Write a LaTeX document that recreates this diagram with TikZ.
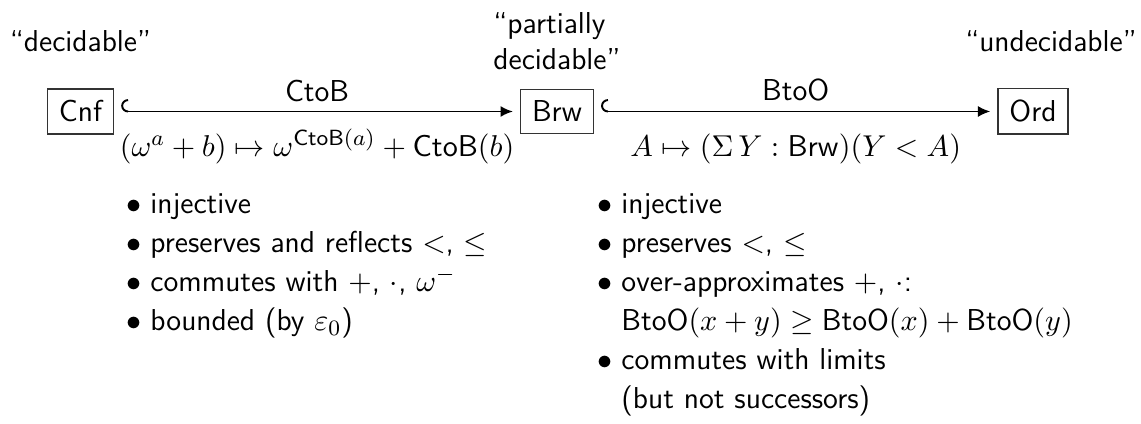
\documentclass[tikz,border=0pt]{standalone}
\usetikzlibrary{positioning, arrows.meta}

\begin{document}
\begin{tikzpicture}[x=0.3636pt, y=0.3636pt, font=\fontsize{11}{13.2}\selectfont\sffamily,
  set/.style={draw=black!80, line width=0.5pt, inner sep=4.2pt},
  level/.style={align=left},
  embed/.style={{Hooks[right, width=9pt, length=2.5pt]}-{Latex[length=4.5pt, width=4pt]}, line width=0.7pt, shorten <=2.5pt, shorten >=2.5pt},
  map/.style={anchor=base, yshift=-16.5pt},
  props/.style={anchor=base west, inner sep=0pt}]
  \useasboundingbox (0,0) rectangle (1141,424);
  % The three sets, left to right, and how decidable each one is.
  \node[set] (cnf) at (80.5,312.5) {Cnf};
  \node[set] (brw) at (557,312.5) {Brw};
  \node[set] (ord) at (1033,312.5) {Ord};
  \coordinate (top) at (0,382.5);
  \node[level] (dec) at (cnf |- top) {``decidable''};
  \node[level] (pdec) at (brw |- top) {``partially\\decidable''};
  \node[level] (undec) at (1051,382.5) {``undecidable''};

  % The two embeddings.
  \draw[embed] (cnf) -- node[above] (ctob) {CtoB}
    node[map] (ctobmap) {$(\omega^a + b) \mapsto \omega^{\mathsf{CtoB}(a)} + \mathsf{CtoB}(b)$} (brw);
  \draw[embed] (brw) -- node[above] (btoo) {BtoO}
    node[map] (btoomap) {$A \mapsto (\Sigma\,Y : \mathsf{Brw})(Y < A)$} (ord);

  % What each embedding does.
  \renewcommand{\arraystretch}{1.07}
  \node[props] (ctobprops) at (125.5,210) {\begin{tabular}[t]{@{}l@{\hspace{3.4pt}}l@{}}
    $\bullet$ & injective\\
    $\bullet$ & preserves and reflects $<$, $\le$\\
    $\bullet$ & commutes with $+$, $\cdot$, $\omega^-$\\
    $\bullet$ & bounded (by $\varepsilon_0$)
  \end{tabular}};
  \node[props] (btooprops) at (596.5,210) {\begin{tabular}[t]{@{}l@{\hspace{3.4pt}}l@{}}
    $\bullet$ & injective\\
    $\bullet$ & preserves $<$, $\le$\\
    $\bullet$ & over-approximates $+$, $\cdot$:\\
    & BtoO$(x + y) \ge {}$BtoO$(x) + {}$BtoO$(y)$\\
    $\bullet$ & commutes with limits\\
    & (but not successors)
  \end{tabular}};
\end{tikzpicture}
\end{document}
